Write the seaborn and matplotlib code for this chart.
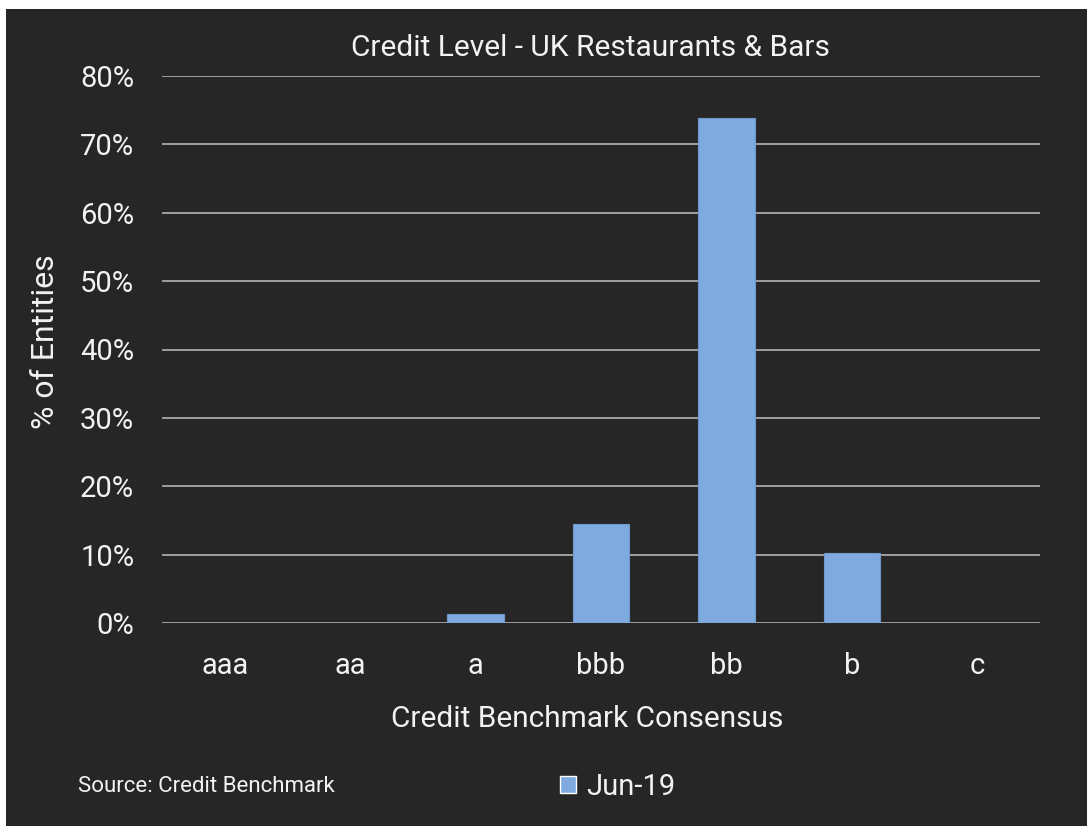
import matplotlib
matplotlib.use("Agg")
import matplotlib.pyplot as plt
import seaborn as sns
import pandas as pd
from matplotlib.ticker import PercentFormatter
from matplotlib.patches import Rectangle

categories = ["aaa", "aa", "a", "bbb", "bb", "b", "c"]
values = [0.0, 0.0, 0.013, 0.145, 0.738, 0.102, 0.0]
series_name = "Jun-19"
y_ticks = [0, 0.1, 0.2, 0.3, 0.4, 0.5, 0.6, 0.7, 0.8]

BG = "#262626"
BAR = "#7faae0"
GRID = "#bfbfbf"
TXT = "#f2f2f2"

sns.set_theme(style="white")
plt.rcParams["font.family"] = ["Roboto", "DejaVu Sans"]

fig = plt.figure(figsize=(10.87, 8.26), dpi=100, facecolor="white")
panel = Rectangle((6/1087, 0), 1 - 6/1087, 1 - 9/826, transform=fig.transFigure,
                  facecolor=BG, edgecolor="none", zorder=-10)
fig.patches.append(panel)
ax = fig.add_axes([162/1087, 1 - 623/826, (1040-162)/1087, (623-76)/826])
ax.set_zorder(1)
ax.set_facecolor(BG)

df = pd.DataFrame({"rating": categories, "share": values, "series": series_name})
sns.barplot(data=df, x="rating", y="share", color=BAR, width=0.45, ax=ax, zorder=3,
            saturation=1, linewidth=0.8, edgecolor="#6f98cc")

ax.set_ylim(0, 0.8)
ax.set_yticks(y_ticks)
ax.yaxis.set_major_formatter(PercentFormatter(1.0, decimals=0))
ax.grid(axis="y", color=GRID, linewidth=1.1, zorder=0)
ax.grid(axis="x", visible=False)
ax.set_axisbelow(True)
for s in ax.spines.values():
    s.set_visible(False)
ax.tick_params(axis="both", length=0, colors=TXT, labelsize=21)
ax.tick_params(axis="y", pad=20)
ax.tick_params(axis="x", pad=21)
ax.set_xlabel("Credit Benchmark Consensus", color=TXT, fontsize=21.5)
ax.set_ylabel("% of Entities", color=TXT, fontsize=23)
ax.xaxis.set_label_coords((587-162)/878, -(705-623)/547)
ax.yaxis.set_label_coords(-(162-60)/878, (623-342)/547)

fig.text(590/1087, 1 - 48/826, "Credit Level - UK Restaurants & Bars", color=TXT,
         fontsize=21.5, ha="center", va="center")
fig.text(78/1087, 1 - 787/826, "Source: Credit Benchmark", color=TXT, fontsize=16,
         ha="left", va="center")

handles = [Rectangle((0, 0), 1, 1, facecolor=BAR)]
fig.legend(handles, [series_name], loc="center", bbox_to_anchor=(618/1087, 1 - 787/826),
           frameon=False, fontsize=21, labelcolor=TXT, handlelength=0.55, handleheight=0.55,
           handletextpad=0.35)

fig.savefig("out.png", dpi=100, facecolor="white")
